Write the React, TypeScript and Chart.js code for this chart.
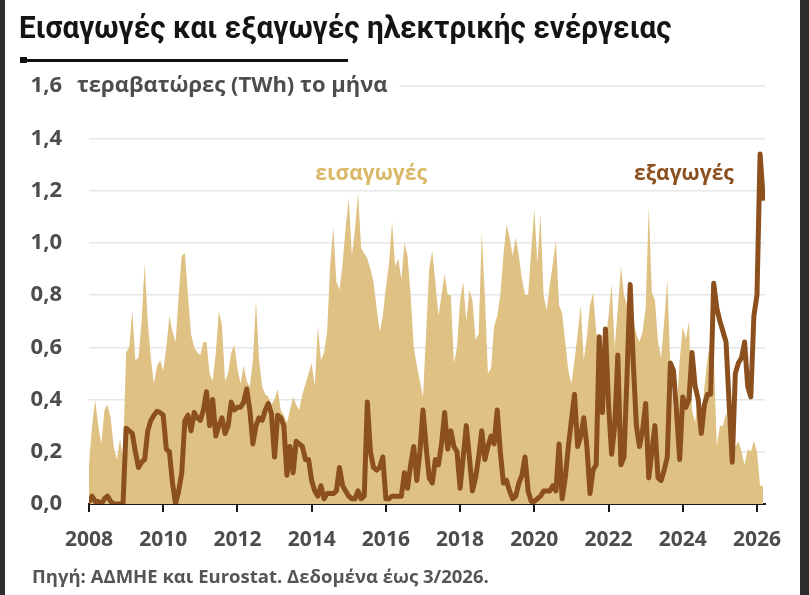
import { useEffect, useRef } from "react";
import { Chart, registerables } from "chart.js";

Chart.register(...registerables);

// Monthly series, January 2008 to March 2026, in TWh
const START_YEAR = 2008;

const importsTWh = [
  0.15, 0.30, 0.40, 0.30, 0.23, 0.36, 0.38, 0.33, 0.22, 0.17, 0.25, 0.18,
  0.58, 0.60, 0.74, 0.55, 0.56, 0.70, 0.92, 0.70, 0.56, 0.46, 0.53, 0.55,
  0.51, 0.60, 0.72, 0.66, 0.62, 0.80, 0.95, 0.96, 0.80, 0.65, 0.60, 0.58,
  0.57, 0.62, 0.62, 0.50, 0.47, 0.58, 0.74, 0.68, 0.47, 0.50, 0.58, 0.61,
  0.52, 0.46, 0.53, 0.47, 0.45, 0.55, 0.78, 0.55, 0.45, 0.42, 0.41, 0.38,
  0.40, 0.44, 0.36, 0.34, 0.31, 0.36, 0.41, 0.38, 0.36, 0.42, 0.46, 0.50,
  0.54, 0.45, 0.68, 0.55, 0.58, 0.66, 0.92, 1.06, 0.85, 0.82, 0.92, 1.06,
  1.17, 0.95, 1.05, 1.19, 0.98, 0.96, 0.94, 0.90, 0.85, 0.75, 0.66, 0.72,
  0.83, 0.92, 1.08, 0.91, 0.94, 0.86, 1.00, 0.95, 0.80, 0.60, 0.53, 0.47,
  0.41, 0.65, 0.90, 0.97, 0.85, 0.72, 0.80, 0.88, 0.80, 0.80, 0.54, 0.60,
  0.78, 0.85, 0.70, 0.82, 0.78, 0.63, 0.65, 1.04, 0.80, 0.50, 0.52, 0.68,
  0.72, 0.80, 0.95, 1.07, 1.02, 0.95, 1.02, 0.95, 0.86, 0.80, 0.80, 0.97,
  1.13, 0.92, 1.11, 0.80, 0.74, 0.84, 0.92, 1.01, 0.76, 0.73, 0.62, 0.51,
  0.46, 0.55, 0.65, 0.76, 0.55, 0.64, 0.76, 0.81, 0.66, 0.58, 0.56, 0.62,
  0.72, 0.84, 0.60, 0.75, 0.91, 0.80, 0.76, 0.72, 0.70, 0.65, 0.62, 0.66,
  0.75, 1.14, 0.81, 0.78, 0.62, 0.56, 0.70, 0.86, 0.52, 0.36, 0.35, 0.55,
  0.68, 0.63, 0.70, 0.36, 0.31, 0.44, 0.31, 0.45, 0.56, 0.63, 0.58, 0.22,
  0.30, 0.30, 0.35, 0.28, 0.22, 0.22, 0.24, 0.20, 0.15, 0.21, 0.20, 0.24,
  0.20, 0.07, 0.07,
];

const exportsTWh = [
  0.01, 0.03, 0.01, 0.01, 0.00, 0.02, 0.03, 0.01, 0.00, 0.00, 0.00, 0.00,
  0.29, 0.28, 0.27, 0.20, 0.14, 0.16, 0.17, 0.28, 0.32, 0.34, 0.355, 0.35,
  0.34, 0.21, 0.20, 0.08, 0.00, 0.05, 0.12, 0.32, 0.34, 0.28, 0.35, 0.33,
  0.32, 0.36, 0.43, 0.30, 0.40, 0.26, 0.30, 0.33, 0.27, 0.30, 0.39, 0.36,
  0.37, 0.37, 0.39, 0.44, 0.36, 0.23, 0.30, 0.33, 0.32, 0.36, 0.385, 0.345,
  0.18, 0.34, 0.33, 0.30, 0.11, 0.22, 0.12, 0.24, 0.23, 0.22, 0.17, 0.17,
  0.09, 0.05, 0.03, 0.07, 0.02, 0.04, 0.04, 0.04, 0.05, 0.14, 0.07, 0.05,
  0.03, 0.02, 0.02, 0.05, 0.02, 0.03, 0.39, 0.20, 0.14, 0.13, 0.14, 0.18,
  0.02, 0.02, 0.03, 0.03, 0.03, 0.03, 0.12, 0.06, 0.15, 0.22, 0.09, 0.20,
  0.36, 0.22, 0.10, 0.08, 0.17, 0.15, 0.23, 0.35, 0.21, 0.28, 0.22, 0.20,
  0.06, 0.18, 0.30, 0.18, 0.05, 0.10, 0.18, 0.28, 0.17, 0.22, 0.26, 0.23,
  0.36, 0.20, 0.08, 0.09, 0.05, 0.02, 0.03, 0.08, 0.11, 0.18, 0.05, 0.01,
  0.01, 0.02, 0.03, 0.05, 0.05, 0.05, 0.07, 0.05, 0.23, 0.02, 0.10, 0.22,
  0.32, 0.42, 0.22, 0.26, 0.33, 0.22, 0.04, 0.13, 0.15, 0.64, 0.35, 0.67,
  0.38, 0.19, 0.30, 0.57, 0.15, 0.18, 0.50, 0.84, 0.54, 0.30, 0.22, 0.28,
  0.385, 0.10, 0.20, 0.30, 0.10, 0.09, 0.13, 0.18, 0.54, 0.51, 0.35, 0.17,
  0.41, 0.37, 0.40, 0.58, 0.45, 0.40, 0.27, 0.38, 0.42, 0.42, 0.845, 0.75,
  0.70, 0.66, 0.62, 0.38, 0.16, 0.50, 0.54, 0.56, 0.62, 0.45, 0.41, 0.72,
  0.80, 1.34, 1.17,
];

const yearTicks = [2008, 2010, 2012, 2014, 2016, 2018, 2020, 2022, 2024, 2026];
const yearLabels = ["2008", "2010", "2012", "2014", "2016", "2018", "2020", "2022", "2024", "2026"];
const valueTicks = [0, 0.2, 0.4, 0.6, 0.8, 1.0, 1.2, 1.4, 1.6];
const valueLabels = ["0,0", "0,2", "0,4", "0,6", "0,8", "1,0", "1,2", "1,4", "1,6"];

const TITLE = "Εισαγωγές και εξαγωγές ηλεκτρικής ενέργειας";
const UNIT = "τεραβατώρες (TWh) το μήνα";
const SOURCE = "Πηγή: ΑΔΜΗΕ και Eurostat. Δεδομένα έως 3/2026.";
const IMPORTS_NAME = "εισαγωγές";
const EXPORTS_NAME = "εξαγωγές";

const TITLE_FONT = "Roboto, 'Noto Sans', sans-serif";
const FONT = "'Open Sans', 'Noto Sans', sans-serif";
const TAN = "#dfc283";
const TAN_TEXT = "#d9b866";
const BROWN = "#8c501e";
const GREY_TEXT = "#4d4d4d";
const GRID = "#e6e6e6";

const toPoints = (vals: number[]) =>
  vals.map((v, i) => ({ x: START_YEAR + i / 12, y: v }));

const annotations = {
  id: "annotations",
  beforeDatasetsDraw(chart: any) {
    const { ctx, chartArea, scales } = chart;
    const y = scales.y.getPixelForValue(1.6);
    ctx.save();
    ctx.font = `bold 22px ${FONT}`;
    const start = 77 + ctx.measureText(UNIT).width + 12;
    ctx.strokeStyle = GRID;
    ctx.lineWidth = 1.5;
    ctx.beginPath();
    ctx.moveTo(start, y);
    ctx.lineTo(chartArea.right, y);
    ctx.stroke();
    ctx.restore();
  },
  afterDraw(chart: any) {
    const { ctx, scales } = chart;
    ctx.save();
    ctx.textBaseline = "middle";
    ctx.font = `bold 22px ${FONT}`;
    ctx.fillStyle = GREY_TEXT;
    ctx.textAlign = "left";
    ctx.fillText(UNIT, 77, scales.y.getPixelForValue(1.6));

    ctx.font = `bold 21px ${FONT}`;
    ctx.textAlign = "center";
    ctx.fillStyle = TAN_TEXT;
    ctx.fillText(IMPORTS_NAME, scales.x.getPixelForValue(2015.6), scales.y.getPixelForValue(1.265));
    ctx.fillStyle = BROWN;
    ctx.fillText(EXPORTS_NAME, scales.x.getPixelForValue(2024.03), scales.y.getPixelForValue(1.265));
    ctx.restore();
  },
};

function EnergyChart() {
  const ref = useRef<HTMLCanvasElement>(null);

  useEffect(() => {
    const chart = new Chart(ref.current as HTMLCanvasElement, {
      type: "line",
      data: {
        datasets: [
          {
            label: EXPORTS_NAME,
            data: toPoints(exportsTWh),
            borderColor: BROWN,
            borderWidth: 5,
            borderJoinStyle: "round",
            borderCapStyle: "round",
            pointRadius: 0,
            fill: false,
            tension: 0,
            order: 0,
          },
          {
            label: IMPORTS_NAME,
            data: toPoints(importsTWh),
            backgroundColor: TAN,
            borderColor: TAN,
            borderWidth: 0,
            pointRadius: 0,
            fill: "origin",
            tension: 0,
            order: 1,
          },
        ],
      } as any,
      options: {
        responsive: false,
        animation: false,
        events: [],
        layout: { padding: { top: 86, right: 44, left: 0, bottom: 0 } },
        plugins: { legend: { display: false }, tooltip: { enabled: false } },
        scales: {
          x: {
            type: "linear",
            min: 2008,
            max: 2026.216,
            afterBuildTicks: (s: any) => {
              s.ticks = yearTicks.map((v) => ({ value: v }));
            },
            afterFit: (s: any) => {
              s.height = 91;
            },
            grid: {
              drawOnChartArea: false,
              drawTicks: true,
              tickLength: 8,
              color: "#1a1a1a",
              lineWidth: 2,
            },
            border: { display: true, color: "#1a1a1a", width: 2 },
            ticks: {
              autoSkip: false,
              maxRotation: 0,
              padding: 15,
              color: GREY_TEXT,
              font: { family: FONT, size: 21, weight: "bold" },
              callback: (_v: any, i: number) => yearLabels[i],
            },
          },
          y: {
            min: 0,
            max: 1.6,
            afterBuildTicks: (s: any) => {
              s.ticks = valueTicks.map((v) => ({ value: v }));
            },
            afterFit: (s: any) => {
              s.width = 89;
            },
            grid: {
              drawTicks: false,
              lineWidth: 1.5,
              color: (c: any) =>
                c.tick && c.tick.value === 1.6 ? "rgba(0,0,0,0)" : GRID,
            },
            border: { display: false },
            ticks: {
              padding: 27,
              color: GREY_TEXT,
              font: { family: FONT, size: 22, weight: "bold" },
              callback: (_v: any, i: number) => valueLabels[i],
            },
          },
        },
      } as any,
      plugins: [annotations],
    });
    return () => chart.destroy();
  }, []);

  return (
    <canvas
      ref={ref}
      width={809}
      height={595}
      style={{ position: "absolute", left: 0, top: 0, width: 809, height: 595 }}
    />
  );
}

export default function App() {
  return (
    <div
      style={{
        position: "fixed",
        left: 0,
        top: 0,
        width: 809,
        height: 595,
        background: "#2e2e2e",
        overflow: "hidden",
      }}
    >
      <div
        style={{
          position: "absolute",
          left: 5,
          top: 0,
          width: 795,
          height: 595,
          background: "#ffffff",
        }}
      />
      <EnergyChart />
      <div
        style={{
          position: "absolute",
          left: 19,
          top: 10,
          fontFamily: TITLE_FONT,
          fontSize: 31,
          fontWeight: 700,
          color: "#141414",
          whiteSpace: "nowrap",
          lineHeight: "36px",
          transform: "scaleX(0.958)",
          transformOrigin: "left center",
        }}
      >
        {TITLE}
      </div>
      <div
        style={{
          position: "absolute",
          left: 21,
          top: 59,
          width: 327,
          height: 2.5,
          background: "#111",
        }}
      />
      <div
        style={{
          position: "absolute",
          left: 20,
          top: 57,
          width: 7,
          height: 6,
          background: "#111",
        }}
      />
      <div
        style={{
          position: "absolute",
          left: 32,
          top: 564,
          fontFamily: FONT,
          fontSize: 18.5,
          fontWeight: 700,
          color: "#555",
          whiteSpace: "nowrap",
          lineHeight: "24px",
        }}
      >
        {SOURCE}
      </div>
    </div>
  );
}
